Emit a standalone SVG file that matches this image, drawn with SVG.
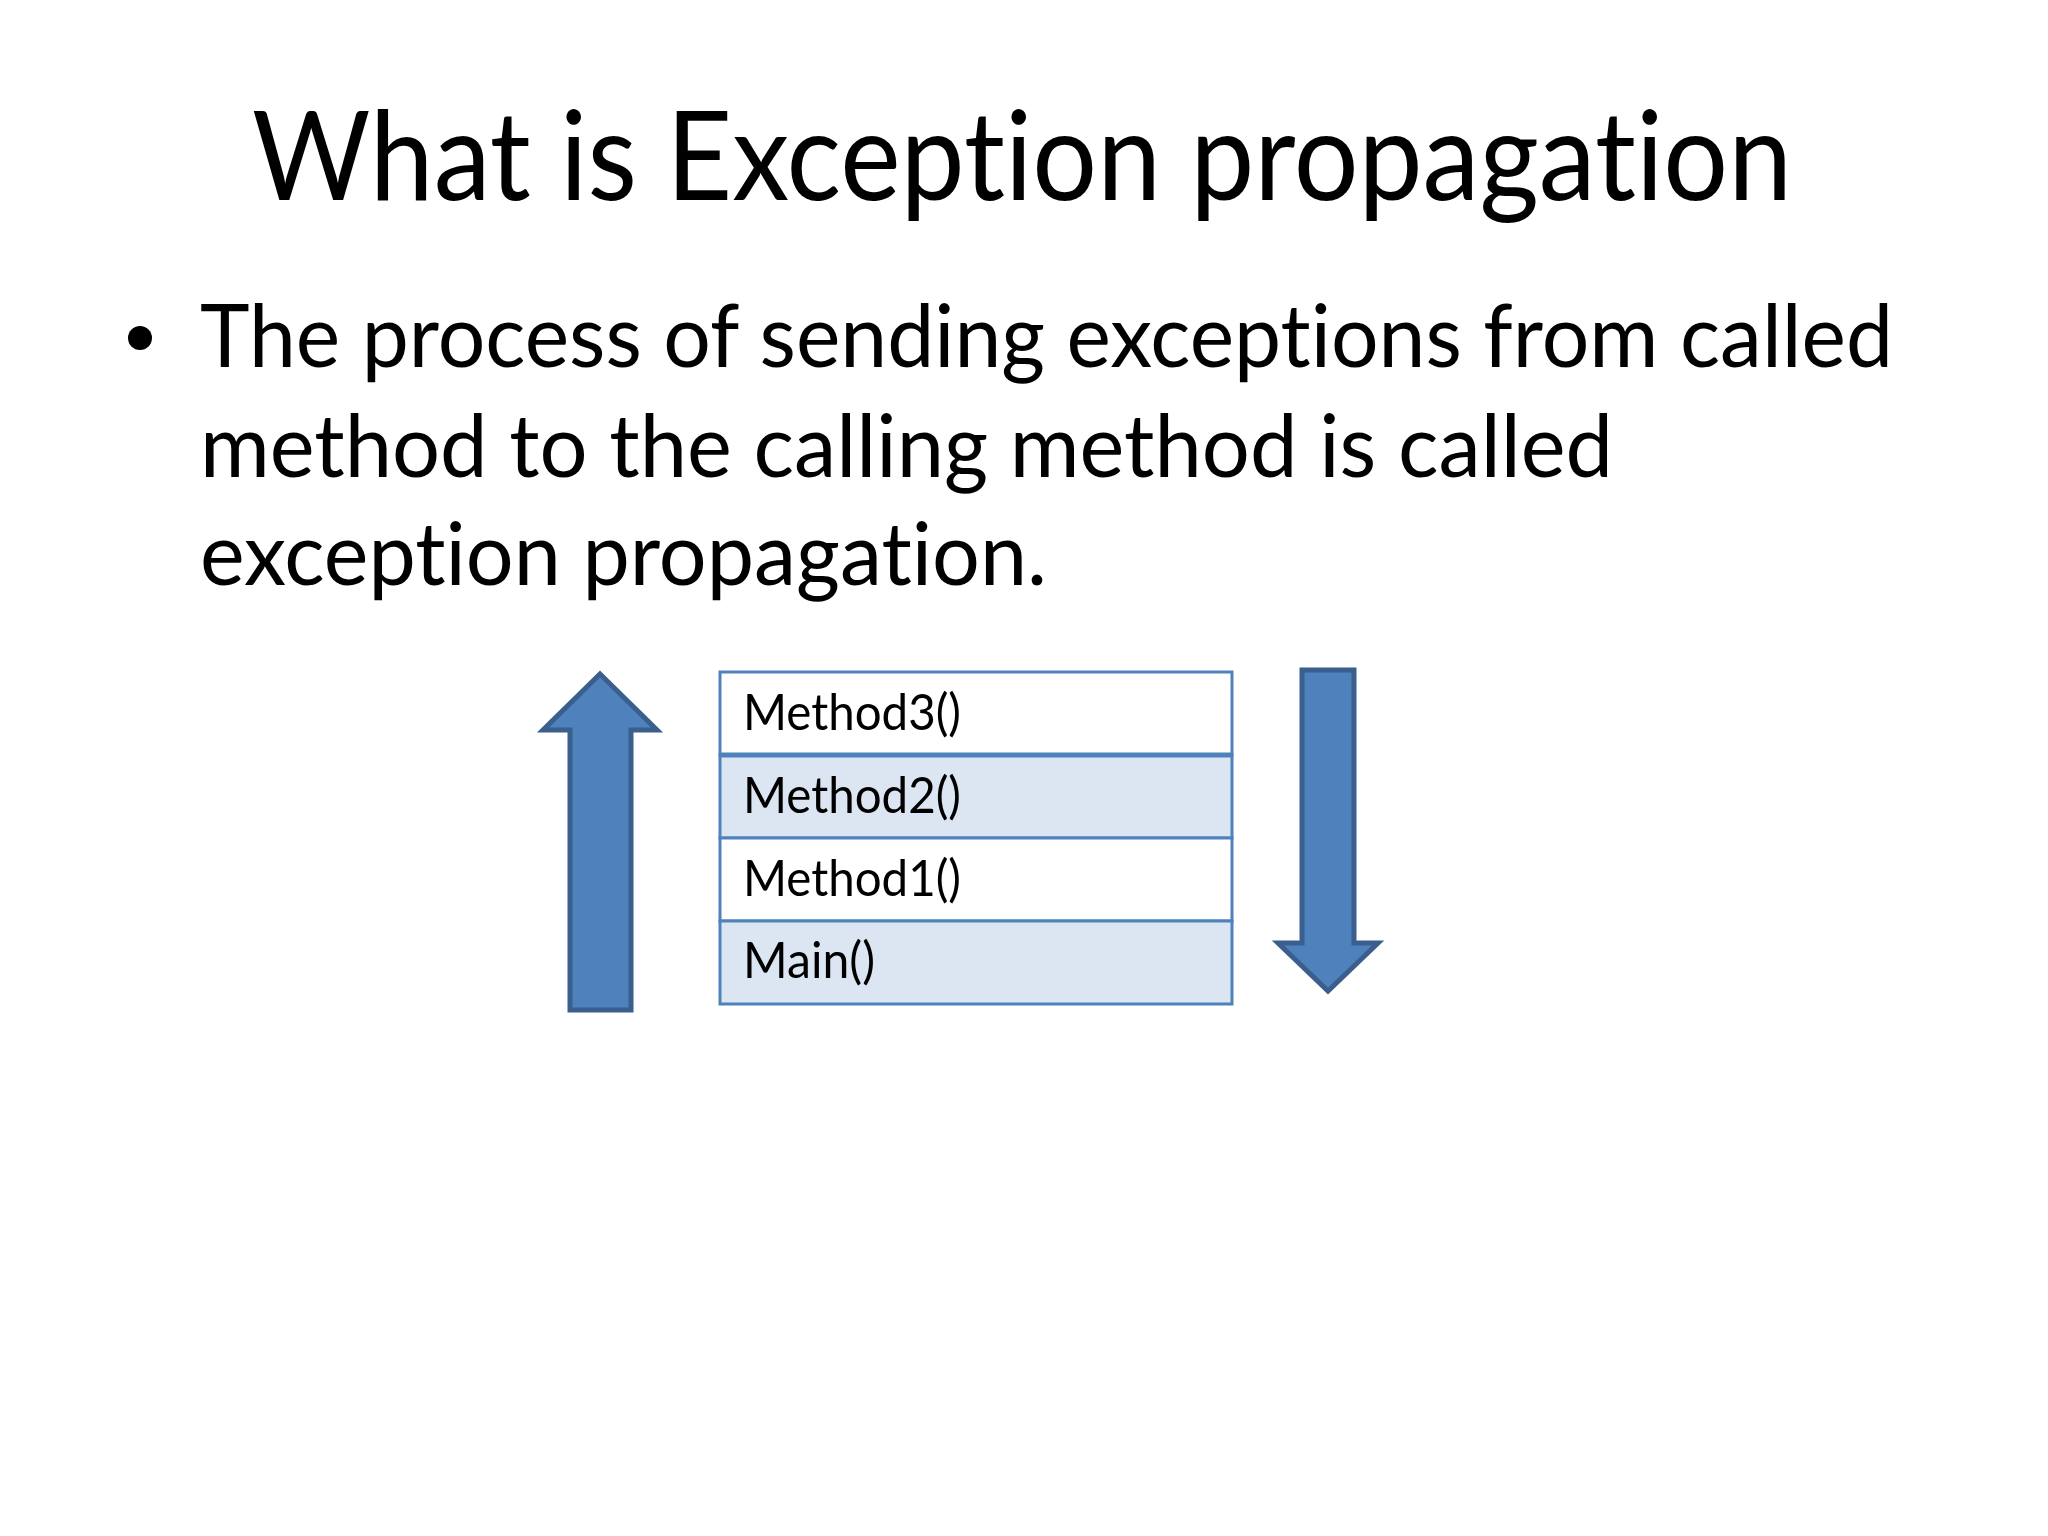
<svg xmlns="http://www.w3.org/2000/svg" width="2048" height="1536" viewBox="0 0 2048 1536">
  <style>
    .t { font-family: Lato, "Open Sans", "Liberation Sans", sans-serif; fill: #000; font-variant-ligatures: none; }
    .cell { font-family: Lato, "Open Sans", "Liberation Sans", sans-serif; font-size: 50px; fill: #000; font-variant-ligatures: none; }
    .arrow { fill: #4f81bd; stroke: #3a5f8d; stroke-width: 5; stroke-linejoin: miter; }
    .row { stroke: #4f81bd; stroke-width: 3; }
  </style>
  <rect width="2048" height="1536" fill="#ffffff"/>
  <g id="title">
    <text class="t" x="252" y="200" font-size="125" textLength="1540" lengthAdjust="spacingAndGlyphs">What is Exception propagation</text>
  </g>
  <g id="body">
    <circle cx="140" cy="338" r="12" fill="#000"/>
    <text class="t" x="200" y="367" font-size="88" textLength="1693" lengthAdjust="spacingAndGlyphs">The process of sending exceptions from called</text>
    <text class="t" x="200" y="477" font-size="88" textLength="1413" lengthAdjust="spacingAndGlyphs">method to the calling method is called</text>
    <text class="t" x="200" y="585" font-size="88" textLength="847" lengthAdjust="spacingAndGlyphs">exception propagation.</text>
  </g>
  <g id="arrow-up">
    <path class="arrow" d="M600,674 L657,730 L631,730 L631,1010 L570,1010 L570,730 L543,730 Z"/>
  </g>
  <g id="stack">
    <g id="row-method3">
      <rect class="row" x="720" y="672" width="512" height="83" fill="#ffffff"/>
      <text class="cell" x="743" y="730" textLength="218" lengthAdjust="spacingAndGlyphs">Method3()</text>
    </g>
    <g id="row-method2">
      <rect class="row" x="720" y="755" width="512" height="83" fill="#dce6f2"/>
      <text class="cell" x="743" y="813" textLength="218" lengthAdjust="spacingAndGlyphs">Method2()</text>
    </g>
    <g id="row-method1">
      <rect class="row" x="720" y="838" width="512" height="83" fill="#ffffff"/>
      <text class="cell" x="743" y="896" textLength="218" lengthAdjust="spacingAndGlyphs">Method1()</text>
    </g>
    <g id="row-main">
      <rect class="row" x="720" y="921" width="512" height="83" fill="#dce6f2"/>
      <text class="cell" x="743" y="978" textLength="132" lengthAdjust="spacingAndGlyphs">Main()</text>
    </g>
    <line x1="720" y1="755" x2="1232" y2="755" stroke="#4f81bd" stroke-width="5"/>
  </g>
  <g id="arrow-down">
    <path class="arrow" d="M1302,670 L1354,670 L1354,943 L1378,943 L1328,991 L1278,943 L1302,943 Z"/>
  </g>
  <g id="connectors"></g>
</svg>
